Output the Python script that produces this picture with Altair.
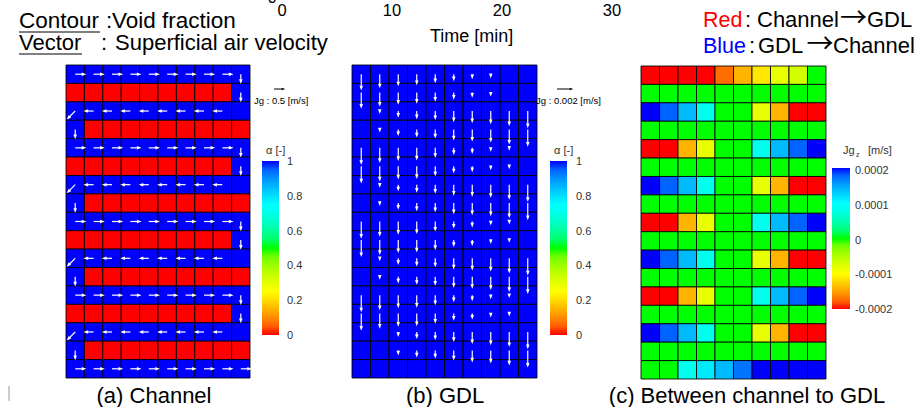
import math
import altair as alt
import pandas as pd

FONT = "Liberation Sans"
CJK = "Noto Sans CJK JP"

# ---------------- data ----------------
# (a) Channel: void fraction alpha per cell (rows top -> bottom, 10 columns)
A_ALPHA = [
    "1111111111", "0000000001", "1111111111", "1000000000",
    "1111111111", "0000000001", "1111111111", "1000000000",
    "1111111111", "0000000001", "1111111111", "1000000000",
    "1111111111", "0000000001", "1111111111", "1000000000",
    "1111111111",
]
# (a) superficial air velocity direction per cell: R right, L left, D down, G down-left
A_DIR = [
    "RRRRRRRRRD", ".........D", "GLLLLLLLL.", "D.........",
    "RRRRRRRRRD", ".........D", "GLLLLLLLL.", "D.........",
    "RRRRRRRRRD", ".........D", "GLLLLLLLL.", "D.........",
    "RRRRRRRRRD", ".........D", "GLLLLLLLL.", "D.........",
    "RRRRRRRRRR",
]
# (x, downward) components in m/s for each direction code
A_VEL = {"R": (0.55, 0.0), "L": (-0.5, 0.0), "D": (0.0, 0.48), "G": (-0.42, 0.42)}

# (b) GDL: alpha = 1 everywhere, downward superficial air velocity [1e-3 m/s]
B_ALPHA = 1.0
B_JG = [
    [2.05, 1.79, 1.54, 1.41, 1.15, 0.90, 0.64, 0.51, 0.00, 0.00],
    [2.05, 1.79, 1.54, 1.41, 1.15, 0.90, 0.64, 0.51, 0.00, 0.00],
    [0.00, 0.38, 0.85, 1.03, 1.15, 1.41, 1.54, 1.67, 1.92, 2.18],
    [0.00, 0.38, 0.85, 1.03, 1.15, 1.41, 1.54, 1.67, 1.92, 2.18],
    [2.18, 1.92, 1.67, 1.60, 1.28, 0.90, 0.77, 0.51, 0.38, 0.00],
    [2.18, 1.92, 1.67, 1.60, 1.28, 0.90, 0.77, 0.51, 0.38, 0.00],
    [0.00, 0.38, 0.85, 1.03, 1.15, 1.41, 1.54, 1.67, 1.92, 2.18],
    [0.00, 0.38, 0.85, 1.03, 1.15, 1.41, 1.54, 1.67, 1.92, 2.18],
    [2.18, 1.92, 1.67, 1.60, 1.28, 0.90, 0.77, 0.51, 0.38, 0.00],
    [2.18, 1.92, 1.67, 1.60, 1.28, 0.90, 0.77, 0.51, 0.38, 0.00],
    [0.00, 0.38, 0.85, 1.03, 1.15, 1.41, 1.54, 1.67, 1.92, 2.18],
    [0.00, 0.38, 0.85, 1.03, 1.15, 1.41, 1.54, 1.67, 1.92, 2.18],
    [2.18, 1.92, 1.67, 1.60, 1.28, 0.90, 0.77, 0.51, 0.38, 0.00],
    [2.18, 1.92, 1.67, 1.60, 1.28, 0.90, 0.77, 0.51, 0.38, 0.00],
    [0.00, 0.00, 0.64, 0.90, 1.03, 1.28, 1.54, 1.67, 1.92, 2.18],
    [0.00, 0.00, 0.64, 0.90, 1.03, 1.28, 1.54, 1.67, 1.92, 2.18],
    [0.00, 0.00, 0.00, 0.00, 0.00, 0.00, 0.00, 0.00, 0.00, 0.00],
]
# (c) Between channel and GDL: Jg_z [1e-4 m/s]
C_JG = [
    [-2.0, -2.0, -2.0, -2.0, -1.73, -1.4, -1.13, -0.83, -0.7, 0.0],
    [0.0] * 10,
    [2.0, 1.8, 1.4, 0.83, 0.0, 0.0, -0.83, -1.4, -2.0, -2.0],
    [0.0] * 10,
    [-2.0, -2.0, -1.4, -0.83, 0.0, 0.0, 0.83, 1.4, 1.8, 2.0],
    [0.0] * 10,
    [2.0, 1.8, 1.4, 0.83, 0.0, 0.0, -0.83, -1.4, -2.0, -2.0],
    [0.0] * 10,
    [-2.0, -2.0, -1.4, -0.83, 0.0, 0.0, 0.83, 1.4, 1.8, 2.0],
    [0.0] * 10,
    [2.0, 1.8, 1.4, 0.83, 0.0, 0.0, -0.83, -1.4, -2.0, -2.0],
    [0.0] * 10,
    [-2.0, -2.0, -1.4, -0.83, 0.0, 0.0, 0.83, 1.4, 1.8, 2.0],
    [0.0] * 10,
    [2.0, 1.8, 1.4, 0.83, 0.0, 0.0, -0.83, -1.4, -2.0, -2.0],
    [0.0] * 10,
    [0.0, 0.0, 0.83, 1.13, 1.4, 1.73, 2.0, 2.0, 2.0, 2.0],
]
ALPHA_TICKS = [0, 0.2, 0.4, 0.6, 0.8, 1]
JG_TICKS = [-2e-4, -1e-4, 0, 1e-4, 2e-4]
JG_LABELS = ["-0.0002", "-0.0001", "0", "0.0001", "0.0002"]
TIME_TICKS = [0, 10, 20, 30]

RAINBOW = ["#ff0000", "#ffff00", "#00ff00", "#00ffff", "#0000ff"]
NROW, NCOL = len(A_ALPHA), 10

# ---------------- frames ----------------
def cells(values):
    out = []
    for r, row in enumerate(values):
        for c, v in enumerate(row):
            out.append({"c0": c, "c1": c + 1, "r0": r, "r1": r + 1, "v": float(v)})
    return pd.DataFrame(out)

HEAD = 0.13  # head half length in cell units


def vectors(items, k):
    out = []
    for c, r, dx, dy in items:
        x0, y0 = c + 0.5, r + 0.5
        ex, ey = dx * k, dy * k
        L = math.hypot(ex, ey)
        if L == 0:
            continue
        ux, uy = ex / L, ey / L
        x1, y1 = x0 + ex, y0 + ey
        h = min(HEAD, L)
        out.append({"x0": x0, "y0": y0, "x1": x1 - ux * h, "y1": y1 - uy * h,
                    "ang": (math.degrees(math.atan2(ux, -uy)) + 360) % 360})
    return pd.DataFrame(out)

a_cells = cells(A_ALPHA)
b_cells = cells([[B_ALPHA] * NCOL for _ in range(NROW)])
c_cells = cells(C_JG)
c_cells["v"] = c_cells["v"] * 1e-4

a_items = []
for r, row in enumerate(A_DIR):
    for c, ch in enumerate(row):
        if ch in A_VEL:
            a_items.append((c, r) + A_VEL[ch])
b_items = []
for r, row in enumerate(B_JG):
    for c, v in enumerate(row):
        b_items.append((c, r, 0.0, v))

# reference arrows: ~10 px for 0.5 m/s (a), ~16 px for 0.002 m/s (b); cells ~18.4 px
KA = (10.2 / 18.4) / 0.5
KB = (15.9 / 18.5) / 2.0
a_vec = vectors(a_items, KA)
b_vec = vectors(b_items, KB)

# ---------------- chart pieces ----------------
def sc(lo, hi, n):
    return alt.Scale(domain=[0, n], range=[lo, hi], nice=False, zero=False)

HEAD_PATH = "M0,-1L0.75,1L-0.75,1Z"


def panel(cell_df, vec_df, xr, yr, color):
    rect = alt.Chart(cell_df).mark_rect(stroke="black", strokeWidth=1, strokeOpacity=0.85).encode(
        x=alt.X("c0:Q", scale=sc(xr[0], xr[1], NCOL), axis=None), x2="c1:Q",
        y=alt.Y("r0:Q", scale=sc(yr[0], yr[1], NROW), axis=None), y2="r1:Q",
        color=color,
    )
    layers = [rect]
    if vec_df is not None:
        shaft = alt.Chart(vec_df).mark_rule(color="white", strokeWidth=1.2).encode(
            x=alt.X("x0:Q", scale=sc(xr[0], xr[1], NCOL), axis=None), x2="x1:Q",
            y=alt.Y("y0:Q", scale=sc(yr[0], yr[1], NROW), axis=None), y2="y1:Q",
        )
        head = alt.Chart(vec_df).mark_point(shape=HEAD_PATH, filled=True, opacity=1,
                                            color="white", size=22, strokeWidth=0).encode(
            x=alt.X("x1:Q", scale=sc(xr[0], xr[1], NCOL), axis=None),
            y=alt.Y("y1:Q", scale=sc(yr[0], yr[1], NROW), axis=None),
            angle=alt.Angle("ang:Q", scale=None),
        )
        layers += [shaft, head]
    return layers


def alpha_color(lx, ly):
    return alt.Color("v:Q", scale=alt.Scale(domain=[0, 0.25, 0.5, 0.75, 1], range=RAINBOW),
                     legend=alt.Legend(orient="none", legendX=lx, legendY=ly, direction="vertical",
                                       gradientLength=174, gradientThickness=17, title=None,
                                       values=ALPHA_TICKS, labelOpacity=0, labelFontSize=1,
                                       gradientStrokeWidth=0))


c_color = alt.Color("v:Q", scale=alt.Scale(domain=JG_TICKS, range=RAINBOW),
                    legend=alt.Legend(orient="none", legendX=832, legendY=168, direction="vertical",
                                      gradientLength=141, gradientThickness=18, title=None,
                                      values=JG_TICKS, labelOpacity=0, labelFontSize=1,
                                      gradientStrokeWidth=0))

# colour-bar tick labels, placed through scales that match the gradients
alpha_tick_df = pd.DataFrame({"v": ALPHA_TICKS})
jg_tick_df = pd.DataFrame({"v": JG_TICKS, "lab": JG_LABELS})


def alpha_labels(x):
    return alt.Chart(alpha_tick_df).mark_text(font=FONT, fontSize=11, color="#333",
                                              align="left", baseline="middle").encode(
        x=alt.value(x),
        y=alt.Y("v:Q", scale=alt.Scale(domain=[0, 1], range=[336, 162], nice=False, zero=False), axis=None),
        text=alt.Text("v:Q", format="~g"))


jg_labels = alt.Chart(jg_tick_df).mark_text(font=FONT, fontSize=11, color="#333",
                                            align="left", baseline="middle").encode(
    x=alt.value(855),
    y=alt.Y("v:Q", scale=alt.Scale(domain=[-2e-4, 2e-4], range=[310, 171], nice=False, zero=False), axis=None),
    text="lab:N")

ONE = pd.DataFrame({"k": [0]})


def txt(s, x, y, size=20, color="black", align="left", baseline="alphabetic", font=FONT):
    return alt.Chart(ONE).mark_text(text=s, align=align, baseline=baseline, fontSize=size,
                                    font=font, color=color).encode(x=alt.value(x), y=alt.value(y))


def hline(x1, x2, y, color="black", w=1.0):
    return alt.Chart(ONE).mark_rule(color=color, strokeWidth=w).encode(
        x=alt.value(x1), x2=alt.value(x2), y=alt.value(y), y2=alt.value(y))


def ref_arrow(x1, x2, y):
    shaft = hline(x1, x2 - 2, y, "black", 1)
    head = alt.Chart(ONE).mark_point(shape=HEAD_PATH, filled=True, opacity=1, color="black",
                                     size=12, strokeWidth=0, angle=90).encode(
        x=alt.value(x2 - 1.5), y=alt.value(y))
    return [shaft, head]


time_df = pd.DataFrame({"t": TIME_TICKS})
time_labels = alt.Chart(time_df).mark_text(font=FONT, fontSize=16.5, baseline="alphabetic").encode(
    x=alt.X("t:Q", scale=alt.Scale(domain=[0, 30], range=[282, 612], nice=False, zero=False), axis=None),
    y=alt.value(16), text=alt.Text("t:Q", format="d"))

layers = []
layers += panel(a_cells, a_vec, (66, 250), (65, 378), alpha_color(262, 161))
layers += panel(b_cells, b_vec, (352, 537), (65, 378), alpha_color(550, 161))
layers += panel(c_cells, None, (641, 826), (66, 379), c_color)
layers += [
    alpha_labels(287), alpha_labels(576), jg_labels,
    time_labels,
    txt("0", 272, 3, 16.5, align="center"),
    txt("Time [min]", 430, 42, 18),
    txt("Contour", 19, 28, 22.5), hline(19, 100, 32),
    txt(":", 106, 28, 22.5),
    txt("Void fraction", 112, 28, 22.5),
    txt("Vector", 19, 50, 22), hline(19, 82, 54),
    txt(":", 101, 50, 22),
    txt("Superficial air velocity", 115, 50, 22),
    txt("Red", 703, 27, 21.5, "#ff0000"),
    txt(":", 745, 27, 22),
    txt("Channel", 757, 27, 22),
    txt("\u2192", 853.5, 19, 27, align="center", baseline="middle", font=CJK),
    txt("GDL", 867, 27, 22),
    txt("Blue", 703, 53, 21.5, "#0000ff"),
    txt(":", 749, 53, 22),
    txt("GDL", 758, 53, 22),
    txt("\u2192", 820, 45, 27, align="center", baseline="middle", font=CJK),
    txt("Channel", 833, 53, 22),
    txt("\u03b1 [-]", 266, 154, 11, "#333"),
    txt("\u03b1 [-]", 554, 154, 11, "#333"),
    txt("Jg", 843, 154, 11, "#333"),
    txt("z", 856, 157, 7, "#333"),
    txt("[m/s]", 868, 154, 11, "#333"),
    txt("Jg : 0.5 [m/s]", 254, 104, 9.5, "#000"),
    txt("Jg : 0.002 [m/s]", 536, 104, 9.5, "#000"),
    txt("(a) Channel", 154, 403, 22, align="center"),
    txt("(b) GDL", 445, 403, 22, align="center"),
    txt("(c) Between channel to GDL", 747, 403, 22, align="center"),
    alt.Chart(ONE).mark_rule(color="#999", strokeWidth=1).encode(
        x=alt.value(9), y=alt.value(386), y2=alt.value(401)),
]
layers += ref_arrow(274, 285, 89)
layers += ref_arrow(557, 573, 89)

chart = alt.layer(*layers).resolve_scale(
    x="independent", y="independent", color="independent"
).properties(
    width=920, height=407, padding=0, autosize="none", background="white"
).configure_view(stroke=None)

chart.save("out.html", embed_options={"renderer": "svg", "actions": False})
